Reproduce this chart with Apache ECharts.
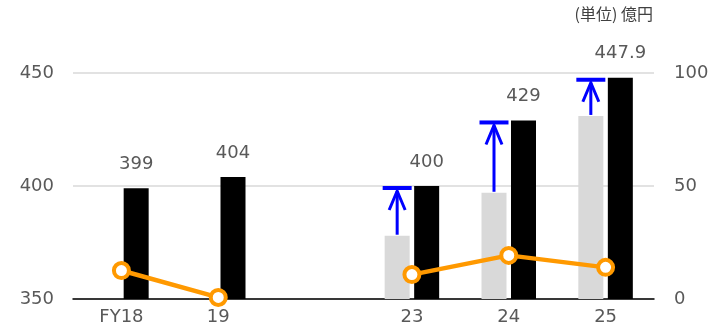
<!DOCTYPE html>
<html>
<head>
<meta charset="utf-8">
<script src="https://cdn.jsdelivr.net/npm/echarts@6/dist/echarts.min.js"></script>
<style>html,body{margin:0;padding:0;background:#fff}#c{width:712px;height:332px}</style>
</head>
<body>
<div id="c"></div>
<script>
var categories = ['FY18', '19', '', '23', '24', '25'];
var resultValues = [399, 404, null, 400, 429, 447.9];
var baseValues = [null, null, null, 378, 397, 431];
var lineValues = [12.6, 0.7, null, 10.8, 19.3, 14];
var leftTicks = {min: 350, max: 450, interval: 50};
var rightTicks = {min: 0, max: 100, interval: 50};
var unitText = '(単位) 億円';

var BAR_W = 25, GAP_PCT = 0.18;
var arrowData = [];
for (var i = 0; i < categories.length; i++) {
  if (baseValues[i] != null && resultValues[i] != null) arrowData.push([i, baseValues[i], resultValues[i]]);
}

var FONT = 'DejaVu Sans';
var chart = echarts.init(document.getElementById('c'));
chart.setOption({
  animation: false,
  grid: {left: 73, right: 58, top: 73, bottom: 33},
  xAxis: {
    type: 'category', data: categories,
    axisTick: {show: false},
    axisLine: {lineStyle: {color: '#000', width: 1.5}},
    axisLabel: {color: '#595959', fontSize: 18, fontFamily: FONT, margin: 9}
  },
  yAxis: [
    {type: 'value', min: leftTicks.min, max: leftTicks.max, interval: leftTicks.interval,
     axisLine: {show: false}, axisTick: {show: false},
     splitLine: {lineStyle: {color: '#d9d9d9', width: 1.5}},
     axisLabel: {color: '#595959', fontSize: 18, fontFamily: FONT, margin: 19}},
    {type: 'value', min: rightTicks.min, max: rightTicks.max, interval: rightTicks.interval,
     axisLine: {show: false}, axisTick: {show: false}, splitLine: {show: false},
     axisLabel: {color: '#595959', fontSize: 18, fontFamily: FONT, margin: 20}}
  ],
  graphic: [{
    type: 'text', right: 59, top: 6,
    style: {text: unitText, fill: '#404040', font: '16px "Noto Sans CJK JP"'}
  }],
  series: [
    {type: 'bar', data: baseValues, barWidth: BAR_W, barGap: (GAP_PCT * 100) + '%',
     itemStyle: {color: '#d9d9d9'}, yAxisIndex: 0},
    {type: 'bar', data: resultValues, barWidth: BAR_W,
     itemStyle: {color: '#000'}, yAxisIndex: 0,
     label: {show: true, position: 'top', distance: 15, color: '#595959', fontSize: 18, fontFamily: FONT}},
    {type: 'custom', yAxisIndex: 0, data: arrowData, z: 5,
     renderItem: function (params, api) {
       var idx = api.value(0);
       var lo = api.coord([idx, api.value(1)]);
       var hi = api.coord([idx, api.value(2)]);
       var x = lo[0] - (BAR_W + BAR_W * GAP_PCT) / 2;
       var yLo = lo[1] - 1, yTop = hi[1];
       var tip = yTop + 4;
       var blue = '#0000ff';
       return {type: 'group', children: [
         {type: 'rect', shape: {x: x - 14.5, y: yTop, width: 29, height: 4}, style: {fill: blue}},
         {type: 'line', shape: {x1: x, y1: yLo, x2: x, y2: tip + 1}, style: {stroke: blue, lineWidth: 3}},
         {type: 'polyline', shape: {points: [[x - 8, tip + 20], [x, tip + 1], [x + 8, tip + 20]]},
          style: {stroke: blue, lineWidth: 3, fill: null}}
       ]};
     }},
    {type: 'line', data: lineValues, yAxisIndex: 1, z: 6,
     symbol: 'circle', symbolSize: 15, connectNulls: false,
     lineStyle: {color: '#ff9900', width: 4.5},
     itemStyle: {color: '#fff', borderColor: '#ff9900', borderWidth: 4}}
  ]
});
</script>
</body>
</html>
